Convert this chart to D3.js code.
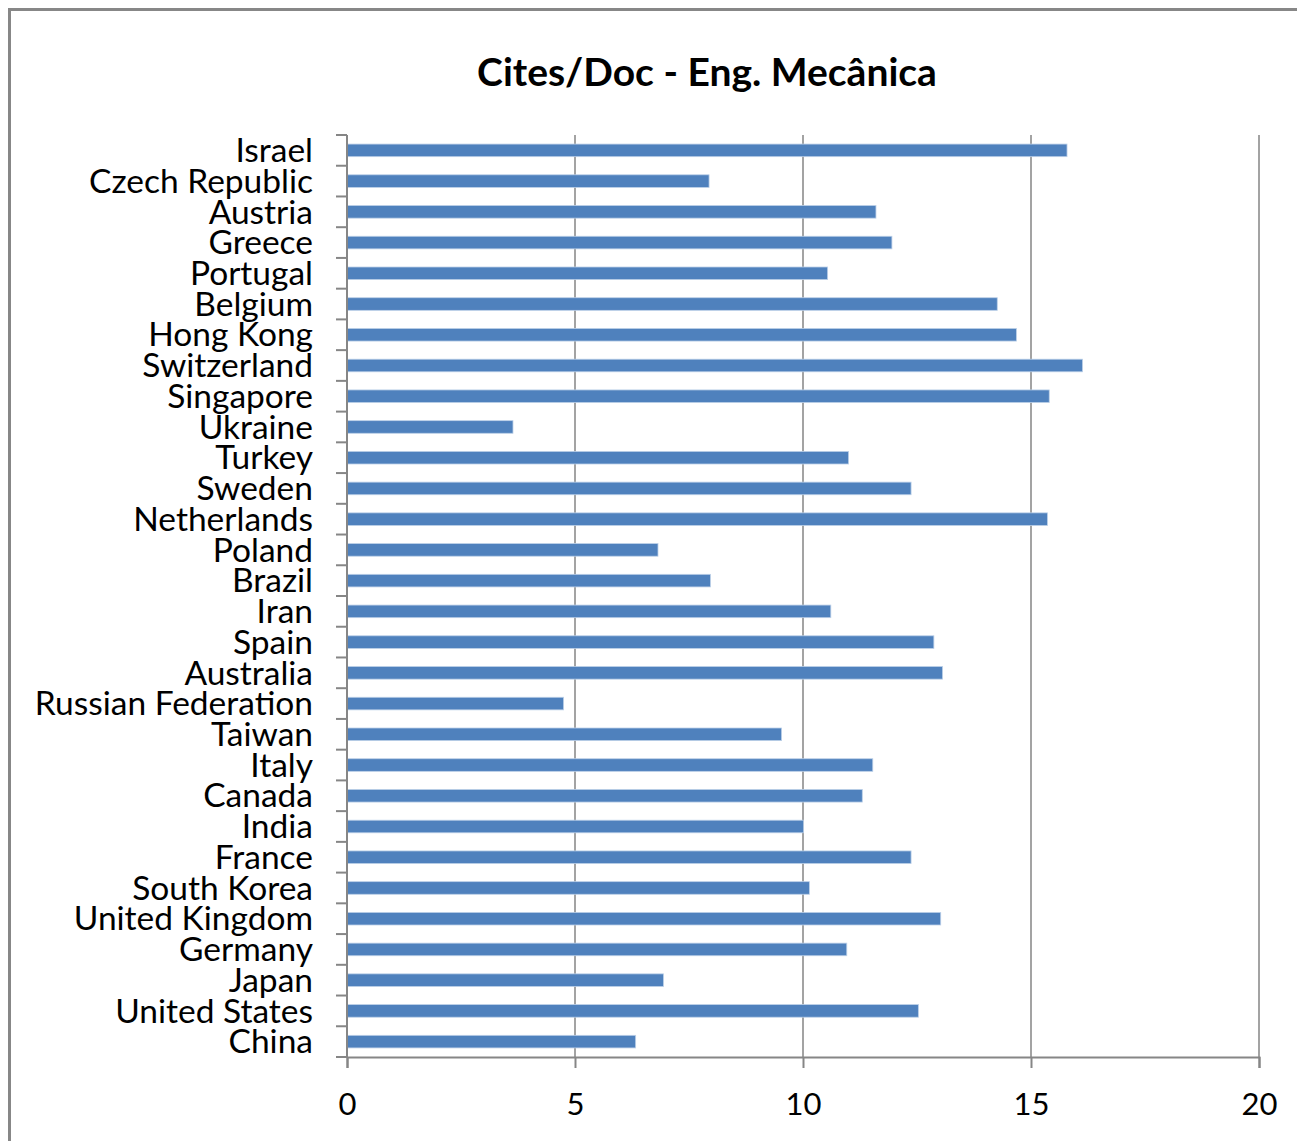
<!DOCTYPE html>
<html>
<head>
<meta charset="utf-8">
<script src="https://cdn.jsdelivr.net/npm/d3@7"></script>
<style>
  body { margin: 0; background: #fff; }
  text { font-family: Lato, "Open Sans", sans-serif; fill: #000; }
</style>
</head>
<body>
<div id="chart"></div>
<script>
// categories, top to bottom
var countries = ["Israel", "Czech Republic", "Austria", "Greece", "Portugal", "Belgium",
  "Hong Kong", "Switzerland", "Singapore", "Ukraine", "Turkey", "Sweden", "Netherlands",
  "Poland", "Brazil", "Iran", "Spain", "Australia", "Russian Federation", "Taiwan", "Italy",
  "Canada", "India", "France", "South Korea", "United Kingdom", "Germany", "Japan",
  "United States", "China"];

// cites per document
var citesPerDoc = [15.79, 7.94, 11.60, 11.95, 10.54, 14.26, 14.68, 16.13, 15.40, 3.64,
  11.0, 12.37, 15.36, 6.82, 7.97, 10.61, 12.87, 13.06, 4.75, 9.53, 11.53,
  11.30, 10.01, 12.37, 10.14, 13.02, 10.96, 6.94, 12.53, 6.33];

var xTicks = [0, 5, 10, 15, 20];
var chartTitle = "Cites/Doc - Eng. Mecânica";

var W = 1297, H = 1141;
var margin = {top: 135, right: 38, bottom: 84, left: 347},
    width = W - margin.left - margin.right,
    height = H - margin.top - margin.bottom;

var data = countries.map(function(c, i) { return {name: c, value: citesPerDoc[i]}; });

var svg = d3.select("#chart").append("svg")
    .attr("width", W)
    .attr("height", H);

// outer chart border
svg.append("rect")
    .attr("x", 9.5).attr("y", 9.5)
    .attr("width", W + 20).attr("height", H + 20)
    .attr("fill", "#fff")
    .attr("stroke", "#878787")
    .attr("stroke-width", 3);

// title
svg.append("text")
    .attr("x", 707)
    .attr("y", 86)
    .attr("text-anchor", "middle")
    .style("font-size", "39px")
    .style("font-weight", "bold")
    .text(chartTitle);

var g = svg.append("g")
    .attr("transform", "translate(" + margin.left + "," + margin.top + ")");

// scales
var x = d3.scaleLinear().domain([0, 20]).range([0, width]);
var y = d3.scaleBand().domain(countries).range([0, height]).padding(0);
var barFrac = 0.41;

// vertical gridlines
g.selectAll(".grid")
    .data(xTicks.slice(1))
  .enter().append("line")
    .attr("class", "grid")
    .attr("x1", function(d) { return x(d); })
    .attr("x2", function(d) { return x(d); })
    .attr("y1", 0)
    .attr("y2", height)
    .attr("stroke", "#8c8c8c")
    .attr("stroke-width", 1.6);

// bars
g.selectAll(".bar")
    .data(data)
  .enter().append("rect")
    .attr("class", "bar")
    .attr("x", x(0))
    .attr("y", function(d) { return y(d.name) + y.bandwidth() * (1 - barFrac) / 2; })
    .attr("width", function(d) { return x(d.value) - x(0); })
    .attr("height", y.bandwidth() * barFrac)
    .attr("fill", "#4f81bd")
    .attr("stroke", "#bcd0e8")
    .attr("stroke-width", 0.8);

// x axis
var xAxis = g.append("g")
    .attr("transform", "translate(0," + height + ")")
    .call(d3.axisBottom(x).tickValues(xTicks).tickSize(11).tickPadding(25));
xAxis.select(".domain").attr("stroke", "#868686").attr("stroke-width", 2);
xAxis.selectAll(".tick line").attr("stroke", "#868686").attr("stroke-width", 2);
xAxis.selectAll(".tick text")
    .attr("fill", "#000")
    .style("font-size", "31px")
    .style("font-family", "Lato, sans-serif");

// y axis: line with ticks on category boundaries
var yAxis = g.append("g");
yAxis.append("line")
    .attr("x1", 0).attr("x2", 0)
    .attr("y1", 0).attr("y2", height)
    .attr("stroke", "#868686").attr("stroke-width", 2);
var bounds = countries.map(function(c) { return y(c); }).concat([height]);
yAxis.selectAll(".ytick")
    .data(bounds)
  .enter().append("line")
    .attr("class", "ytick")
    .attr("x1", -11).attr("x2", 0)
    .attr("y1", function(d) { return d; })
    .attr("y2", function(d) { return d; })
    .attr("stroke", "#868686").attr("stroke-width", 2);

// category labels
yAxis.selectAll(".ylabel")
    .data(countries)
  .enter().append("text")
    .attr("class", "ylabel")
    .attr("x", -34)
    .attr("y", function(d) { return y(d) + y.bandwidth() / 2; })
    .attr("dy", "0.35em")
    .attr("text-anchor", "end")
    .style("font-size", "33.5px")
    .text(function(d) { return d; });
</script>
</body>
</html>
